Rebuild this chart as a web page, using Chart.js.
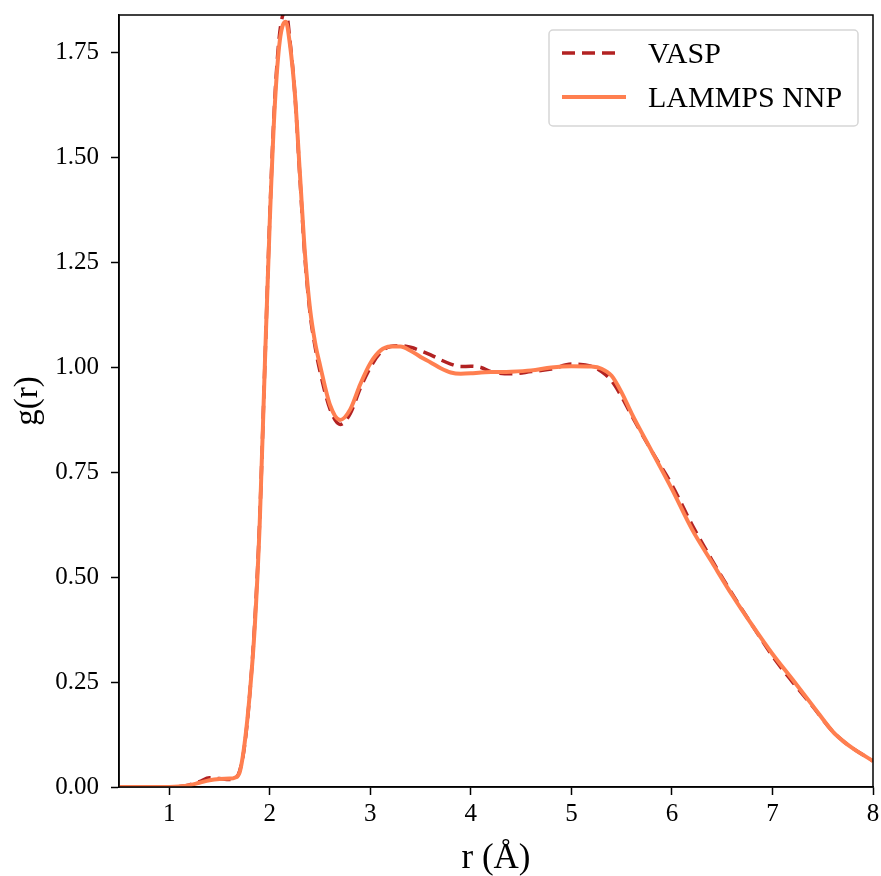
<!DOCTYPE html>
<html>
<head>
<meta charset="utf-8">
<script src="https://cdn.jsdelivr.net/npm/chart.js@4/dist/chart.umd.min.js"></script>
<style>
  html, body { margin: 0; padding: 0; background: #fff; }
  #wrap { width: 881px; height: 876px; position: relative; }
</style>
</head>
<body>
<div id="wrap"><canvas id="rdf" width="881" height="876"></canvas></div>
<script>
// r grid (Å) and g(r)
const r = [0.5, 0.7, 0.9, 1.0, 1.1, 1.2, 1.3, 1.4, 1.5, 1.6, 1.65, 1.7, 1.75, 1.8, 1.85, 1.9, 1.95, 2.0, 2.05, 2.1, 2.16, 2.2, 2.25, 2.3, 2.35, 2.4, 2.45, 2.5, 2.6, 2.7, 2.8, 2.9, 3.0, 3.1, 3.2, 3.3, 3.4, 3.5, 3.6, 3.7, 3.8, 3.9, 4.0, 4.1, 4.2, 4.4, 4.6, 4.8, 5.0, 5.2, 5.3, 5.4, 5.5, 5.6, 5.8, 6.0, 6.2, 6.4, 6.6, 6.8, 7.0, 7.2, 7.4, 7.6, 7.7, 7.8, 8.0];
const gVasp = [0, 0, 0, 0, 0.001, 0.005, 0.013, 0.022, 0.02, 0.018, 0.02, 0.038, 0.10, 0.22, 0.39, 0.64, 1.0, 1.36, 1.64, 1.80, 1.85, 1.78, 1.65, 1.45, 1.26, 1.13, 1.05, 0.99, 0.90, 0.864, 0.89, 0.95, 1.0, 1.035, 1.05, 1.052, 1.048, 1.04, 1.03, 1.018, 1.008, 1.002, 1.003, 1.0, 0.99, 0.985, 0.99, 0.996, 1.008, 1.003, 0.99, 0.968, 0.93, 0.885, 0.80, 0.72, 0.625, 0.54, 0.46, 0.385, 0.312, 0.25, 0.192, 0.132, 0.11, 0.092, 0.062];
const gNnp = [0, 0, 0, 0, 0.001, 0.004, 0.01, 0.016, 0.019, 0.02, 0.022, 0.035, 0.105, 0.22, 0.38, 0.63, 1.0, 1.35, 1.625, 1.78, 1.824, 1.77, 1.65, 1.46, 1.27, 1.14, 1.06, 1.005, 0.91, 0.875, 0.90, 0.96, 1.01, 1.04, 1.05, 1.05, 1.04, 1.025, 1.012, 0.998, 0.988, 0.985, 0.986, 0.988, 0.989, 0.990, 0.993, 1.0, 1.003, 1.002, 0.997, 0.98, 0.94, 0.89, 0.80, 0.71, 0.614, 0.535, 0.457, 0.385, 0.317, 0.256, 0.194, 0.132, 0.11, 0.092, 0.062];
const xTicks = [1, 2, 3, 4, 5, 6, 7, 8];
const yTicks = [0, 0.25, 0.5, 0.75, 1.0, 1.25, 1.5, 1.75];
const seriesNames = ['VASP', 'LAMMPS NNP'];

const serif = "'Liberation Serif', 'DejaVu Serif', serif";
const vaspColor = '#b22222';
const nnpColor = '#ff7f50';

const frame = {
    id: 'frame',
    afterDatasetsDraw(chart) {
        const { ctx, chartArea: a } = chart;
        ctx.save();
        ctx.strokeStyle = '#000';
        ctx.lineWidth = 1.5;
        ctx.strokeRect(a.left, a.top, a.right - a.left, a.bottom - a.top);
        ctx.restore();
    },
    afterDraw(chart) {
        // matplotlib-style legend in the upper right corner
        const { ctx } = chart;
        const x = 549, y = 30, w = 309, h = 96;
        ctx.save();
        ctx.fillStyle = 'rgba(255,255,255,0.8)';
        ctx.strokeStyle = '#d6d6d6';
        ctx.lineWidth = 1.5;
        ctx.beginPath();
        ctx.roundRect(x, y, w, h, 4);
        ctx.fill();
        ctx.stroke();
        const rows = [53, 97];
        const ends = [615, 626];
        chart.data.datasets.forEach((ds, i) => {
            ctx.strokeStyle = ds.borderColor;
            ctx.lineWidth = ds.borderWidth;
            ctx.setLineDash(ds.borderDash || []);
            ctx.beginPath();
            ctx.moveTo(562, rows[i]);
            ctx.lineTo(ends[i], rows[i]);
            ctx.stroke();
            ctx.setLineDash([]);
            ctx.fillStyle = '#000';
            ctx.font = '30px ' + serif;
            ctx.textBaseline = 'middle';
            ctx.fillText(ds.label, 648, rows[i] + 2);
        });
        ctx.restore();
    }
};

new Chart(document.getElementById('rdf'), {
    type: 'line',
    data: {
        datasets: [
            {
                label: seriesNames[0],
                data: r.map((v, i) => ({ x: v, y: gVasp[i] })),
                borderColor: vaspColor,
                borderWidth: 3.5,
                borderDash: [13, 7],
                pointRadius: 0,
                cubicInterpolationMode: 'monotone',
                clip: 0,
                order: 1,
            },
            {
                label: seriesNames[1],
                data: r.map((v, i) => ({ x: v, y: gNnp[i] })),
                borderColor: nnpColor,
                borderWidth: 4,
                pointRadius: 0,
                cubicInterpolationMode: 'monotone',
                clip: 0,
                order: 0,
            },
        ],
    },
    plugins: [frame],
    options: {
        responsive: false,
        animation: false,
        layout: { padding: { top: 15, right: 8, left: 0, bottom: 0 } },
        plugins: { legend: { display: false }, tooltip: { enabled: false } },
        scales: {
            x: {
                type: 'linear',
                min: 0.5,
                max: 8,
                afterBuildTicks: s => { s.ticks = xTicks.map(v => ({ value: v })); },
                afterFit: s => { s.height = 89; s.paddingLeft = 0; s.paddingRight = 0; },
                grid: { drawOnChartArea: false, drawTicks: true, tickLength: 8, tickWidth: 1.5, tickColor: '#000' },
                border: { display: true, color: '#000', width: 1.5 },
                ticks: { color: '#000', font: { family: serif, size: 25 }, padding: 4, maxRotation: 0 },
                title: { display: true, text: 'r (Å)', color: '#000', font: { family: serif, size: 35, lineHeight: 1 }, padding: { top: 0, bottom: 0 } },
            },
            y: {
                type: 'linear',
                min: 0,
                max: 1.84,
                afterBuildTicks: s => { s.ticks = yTicks.map(v => ({ value: v })); },
                afterFit: s => { s.width = 119; s.paddingTop = 0; s.paddingBottom = 0; },
                grid: { drawOnChartArea: false, drawTicks: true, tickLength: 8, tickWidth: 1.5, tickColor: '#000' },
                border: { display: true, color: '#000', width: 1.5 },
                ticks: { color: '#000', font: { family: serif, size: 25 }, padding: 12, callback: v => v.toFixed(2) },
                title: { display: true, text: 'g(r)', color: '#000', font: { family: serif, size: 33, lineHeight: 1 }, padding: { top: 12, bottom: 0 } },
            },
        },
    },
});
</script>
</body>
</html>
